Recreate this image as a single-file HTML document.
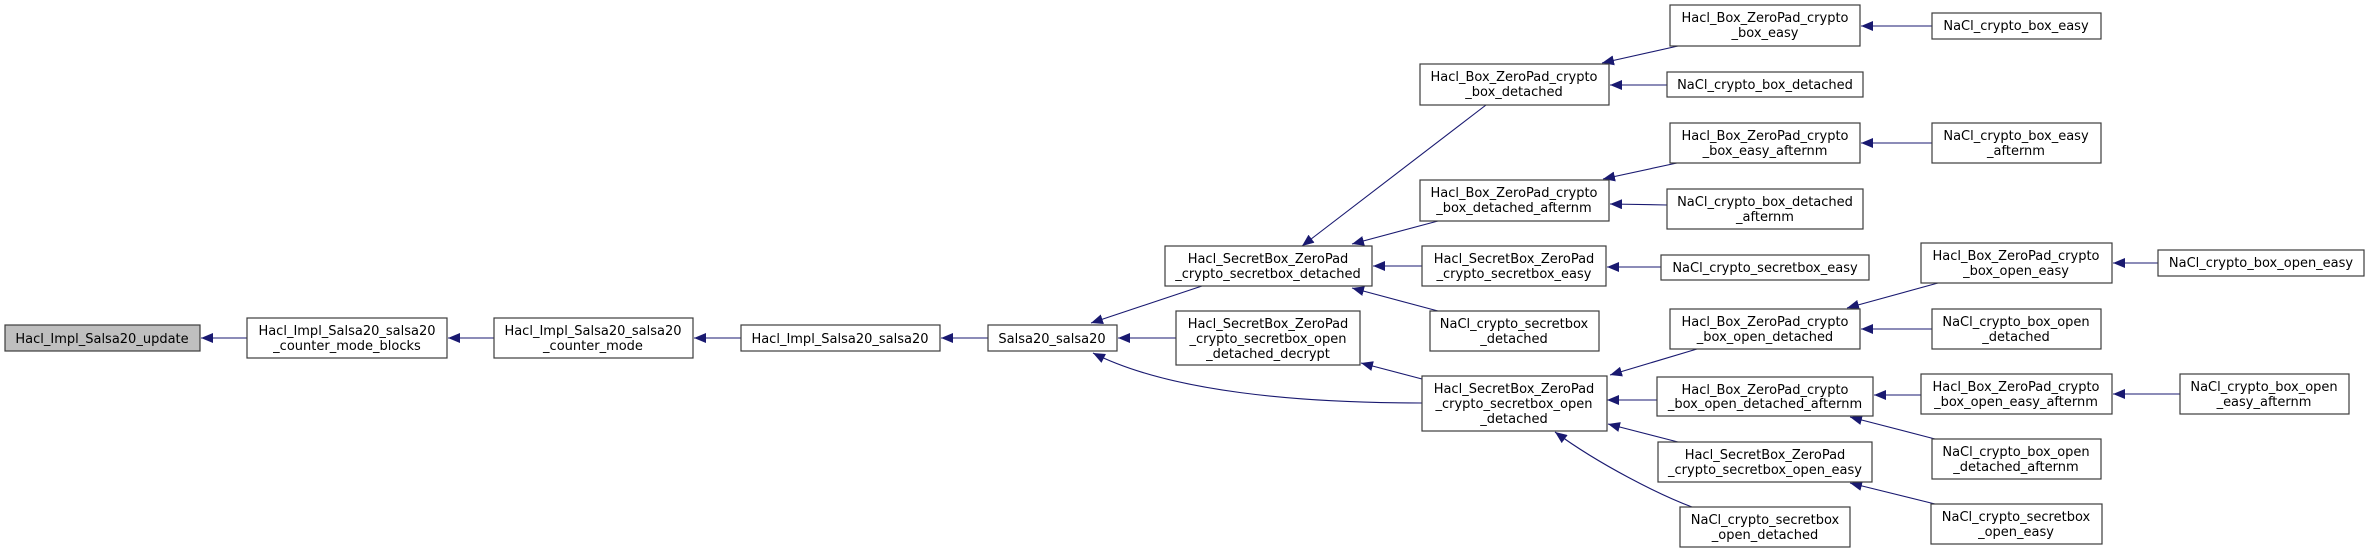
<!DOCTYPE html>
<html><head><meta charset="utf-8"><style>
html,body{margin:0;padding:0;background:#fff;}
svg{display:block;}
text{font-family:"DejaVu Sans","Liberation Sans",sans-serif;font-size:13px;fill:#000;text-anchor:middle;}
.n{fill:#fff;stroke:#3c3c3c;stroke-width:1.2;}
.e{fill:none;stroke:#191970;stroke-width:1.1;}
</style></head><body>
<svg width="2369" height="553" viewBox="0 0 2369 553" xmlns="http://www.w3.org/2000/svg">
<defs><marker id="a" markerUnits="userSpaceOnUse" markerWidth="12" markerHeight="10" refX="12" refY="5" orient="auto"><path d="M0,0 L12,5 L0,10 z" fill="#191970"/></marker></defs>
<g class="edges">
<line class="e" x1="247" y1="338" x2="201" y2="338" marker-end="url(#a)"/>
<line class="e" x1="494" y1="338" x2="448" y2="338" marker-end="url(#a)"/>
<line class="e" x1="741" y1="338" x2="694" y2="338" marker-end="url(#a)"/>
<line class="e" x1="988" y1="338" x2="941" y2="338" marker-end="url(#a)"/>
<line class="e" x1="1202" y1="286" x2="1091" y2="323" marker-end="url(#a)"/>
<line class="e" x1="1176" y1="338" x2="1118" y2="338" marker-end="url(#a)"/>
<path class="e" d="M1422,403 C1300,403 1170,392 1093,353" marker-end="url(#a)"/>
<line class="e" x1="1486" y1="105" x2="1302" y2="246" marker-end="url(#a)"/>
<line class="e" x1="1438" y1="221" x2="1352" y2="244" marker-end="url(#a)"/>
<line class="e" x1="1422" y1="266" x2="1373" y2="266" marker-end="url(#a)"/>
<line class="e" x1="1438" y1="311" x2="1352" y2="288" marker-end="url(#a)"/>
<line class="e" x1="1422" y1="379" x2="1361" y2="363" marker-end="url(#a)"/>
<line class="e" x1="1678" y1="46" x2="1602" y2="63" marker-end="url(#a)"/>
<line class="e" x1="1667" y1="85" x2="1610" y2="85" marker-end="url(#a)"/>
<line class="e" x1="1677" y1="163" x2="1603" y2="179" marker-end="url(#a)"/>
<line class="e" x1="1667" y1="205" x2="1610" y2="204" marker-end="url(#a)"/>
<line class="e" x1="1661" y1="267" x2="1607" y2="267" marker-end="url(#a)"/>
<line class="e" x1="1697" y1="349" x2="1610" y2="375" marker-end="url(#a)"/>
<line class="e" x1="1657" y1="400" x2="1607" y2="400" marker-end="url(#a)"/>
<line class="e" x1="1678" y1="442" x2="1608" y2="424" marker-end="url(#a)"/>
<path class="e" d="M1692,507 C1660,495 1600,465 1555,432" marker-end="url(#a)"/>
<line class="e" x1="1932" y1="26" x2="1861" y2="26" marker-end="url(#a)"/>
<line class="e" x1="1932" y1="143" x2="1861" y2="143" marker-end="url(#a)"/>
<line class="e" x1="1938" y1="283" x2="1847" y2="308" marker-end="url(#a)"/>
<line class="e" x1="1932" y1="329" x2="1861" y2="329" marker-end="url(#a)"/>
<line class="e" x1="1921" y1="395" x2="1874" y2="395" marker-end="url(#a)"/>
<line class="e" x1="1935" y1="439" x2="1850" y2="417" marker-end="url(#a)"/>
<line class="e" x1="1935" y1="504" x2="1850" y2="483" marker-end="url(#a)"/>
<line class="e" x1="2158" y1="263" x2="2113" y2="263" marker-end="url(#a)"/>
<line class="e" x1="2180" y1="394" x2="2113" y2="394" marker-end="url(#a)"/>
</g>
<g>
<rect x="5" y="325" width="195" height="26" style="fill:#bfbfbf;stroke:#3c3c3c;stroke-width:1.2"/><text x="102" y="343">Hacl_Impl_Salsa20_update</text>
<rect class="n" x="247" y="318" width="200" height="40"/><text x="347" y="335">Hacl_Impl_Salsa20_salsa20</text><text x="347" y="350">_counter_mode_blocks</text>
<rect class="n" x="494" y="318" width="199" height="40"/><text x="593" y="335">Hacl_Impl_Salsa20_salsa20</text><text x="593" y="350">_counter_mode</text>
<rect class="n" x="741" y="325" width="199" height="26"/><text x="840" y="343">Hacl_Impl_Salsa20_salsa20</text>
<rect class="n" x="988" y="325" width="129" height="26"/><text x="1052" y="343">Salsa20_salsa20</text>
<rect class="n" x="1165" y="246" width="207" height="40"/><text x="1268" y="263">Hacl_SecretBox_ZeroPad</text><text x="1268" y="278">_crypto_secretbox_detached</text>
<rect class="n" x="1176" y="311" width="184" height="54"/><text x="1268" y="328">Hacl_SecretBox_ZeroPad</text><text x="1268" y="343">_crypto_secretbox_open</text><text x="1268" y="358">_detached_decrypt</text>
<rect class="n" x="1420" y="64" width="189" height="41"/><text x="1514" y="81">Hacl_Box_ZeroPad_crypto</text><text x="1514" y="96">_box_detached</text>
<rect class="n" x="1420" y="180" width="189" height="41"/><text x="1514" y="197">Hacl_Box_ZeroPad_crypto</text><text x="1514" y="212">_box_detached_afternm</text>
<rect class="n" x="1422" y="246" width="184" height="40"/><text x="1514" y="263">Hacl_SecretBox_ZeroPad</text><text x="1514" y="278">_crypto_secretbox_easy</text>
<rect class="n" x="1430" y="311" width="169" height="40"/><text x="1514" y="328">NaCl_crypto_secretbox</text><text x="1514" y="343">_detached</text>
<rect class="n" x="1422" y="376" width="185" height="55"/><text x="1514" y="393">Hacl_SecretBox_ZeroPad</text><text x="1514" y="408">_crypto_secretbox_open</text><text x="1514" y="423">_detached</text>
<rect class="n" x="1670" y="5" width="190" height="41"/><text x="1765" y="22">Hacl_Box_ZeroPad_crypto</text><text x="1765" y="37">_box_easy</text>
<rect class="n" x="1667" y="72" width="196" height="25"/><text x="1765" y="89">NaCl_crypto_box_detached</text>
<rect class="n" x="1670" y="123" width="190" height="40"/><text x="1765" y="140">Hacl_Box_ZeroPad_crypto</text><text x="1765" y="155">_box_easy_afternm</text>
<rect class="n" x="1667" y="189" width="196" height="40"/><text x="1765" y="206">NaCl_crypto_box_detached</text><text x="1765" y="221">_afternm</text>
<rect class="n" x="1661" y="255" width="208" height="25"/><text x="1765" y="272">NaCl_crypto_secretbox_easy</text>
<rect class="n" x="1670" y="309" width="190" height="40"/><text x="1765" y="326">Hacl_Box_ZeroPad_crypto</text><text x="1765" y="341">_box_open_detached</text>
<rect class="n" x="1657" y="377" width="216" height="39"/><text x="1765" y="394">Hacl_Box_ZeroPad_crypto</text><text x="1765" y="408">_box_open_detached_afternm</text>
<rect class="n" x="1658" y="442" width="214" height="40"/><text x="1765" y="459">Hacl_SecretBox_ZeroPad</text><text x="1765" y="474">_crypto_secretbox_open_easy</text>
<rect class="n" x="1680" y="507" width="170" height="40"/><text x="1765" y="524">NaCl_crypto_secretbox</text><text x="1765" y="539">_open_detached</text>
<rect class="n" x="1932" y="13" width="169" height="26"/><text x="2016" y="30">NaCl_crypto_box_easy</text>
<rect class="n" x="1932" y="123" width="169" height="40"/><text x="2016" y="140">NaCl_crypto_box_easy</text><text x="2016" y="155">_afternm</text>
<rect class="n" x="1921" y="243" width="191" height="40"/><text x="2016" y="260">Hacl_Box_ZeroPad_crypto</text><text x="2016" y="275">_box_open_easy</text>
<rect class="n" x="1932" y="309" width="169" height="40"/><text x="2016" y="326">NaCl_crypto_box_open</text><text x="2016" y="341">_detached</text>
<rect class="n" x="1921" y="374" width="191" height="40"/><text x="2016" y="391">Hacl_Box_ZeroPad_crypto</text><text x="2016" y="406">_box_open_easy_afternm</text>
<rect class="n" x="1932" y="439" width="169" height="40"/><text x="2016" y="456">NaCl_crypto_box_open</text><text x="2016" y="471">_detached_afternm</text>
<rect class="n" x="1931" y="504" width="171" height="40"/><text x="2016" y="521">NaCl_crypto_secretbox</text><text x="2016" y="536">_open_easy</text>
<rect class="n" x="2158" y="250" width="206" height="26"/><text x="2261" y="267">NaCl_crypto_box_open_easy</text>
<rect class="n" x="2180" y="374" width="169" height="40"/><text x="2264" y="391">NaCl_crypto_box_open</text><text x="2264" y="406">_easy_afternm</text>
</g>
</svg>
</body></html>
